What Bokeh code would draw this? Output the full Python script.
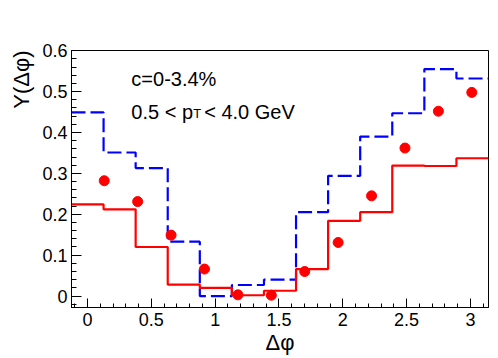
import numpy as np
from bokeh.plotting import figure
from bokeh.models import Label, SingleIntervalTicker, CustomJSTickFormatter, Range1d, Title
from bokeh.embed import file_html
from bokeh.resources import INLINE

# ---------------- data ----------------
# histogram bin edges: 13 bins of width 2*pi/25 covering [-pi/25, pi]
bin_edges = np.linspace(-np.pi, np.pi, 26)[12:]
blue_hist = [0.449, 0.351, 0.313, 0.133, 0.000, 0.027, 0.040, 0.205, 0.294, 0.390, 0.447, 0.555, 0.532]
red_hist = [0.224, 0.212, 0.120, 0.028, 0.020, 0.002, 0.013, 0.066, 0.184, 0.205, 0.319, 0.318, 0.337]
# data points at centers of 12 bins of width pi/12
point_x = (np.arange(12) + 0.5) * np.pi / 12
point_y = [0.282, 0.231, 0.149, 0.066, 0.003, 0.002, 0.060, 0.131, 0.245, 0.362, 0.452, 0.498]

x_title = "Δφ"
y_title = "Y(Δφ)"
text_centrality = "c=0-3.4%"
text_pt_a = "0.5 < p"
text_pt_sub = "T"
text_pt_b = "< 4.0 GeV"

FONT = "Liberation Sans"

# ---------------- figure ----------------
X0, X1 = -np.pi / 25, np.pi
Y0, Y1 = -0.028, 0.6005
W, H = 498, 358
BL, BR, BT, BB = 70, 10, 50, 51
OFF = 0

p = figure(width=W, height=H, output_backend="svg", toolbar_location=None,
           x_range=Range1d(X0, X1), y_range=Range1d(Y0, Y1),
           min_border_left=BL, min_border_right=BR, min_border_top=BT, min_border_bottom=BB)
p.background_fill_color = "white"
p.border_fill_color = "white"
p.outline_line_color = "black"
p.outline_line_width = 1
p.xgrid.visible = False
p.ygrid.visible = False

fmt = CustomJSTickFormatter(code="return String(parseFloat(tick.toFixed(3)));")

xa = p.xaxis[0]
xa.ticker = SingleIntervalTicker(interval=0.5, num_minor_ticks=5)
xa.formatter = fmt
xa.major_tick_in = 9
xa.major_tick_out = 0
xa.minor_tick_in = 4
xa.minor_tick_out = 0
xa.axis_line_color = "black"
xa.major_tick_line_color = "black"
xa.minor_tick_line_color = "black"
xa.major_label_text_font = FONT
xa.major_label_text_font_size = "18px"
xa.major_label_text_color = "black"
xa.major_label_standoff = 5
xa.axis_label = x_title
xa.axis_label_text_font = FONT
xa.axis_label_text_font_size = "22px"
xa.axis_label_text_font_style = "normal"
xa.axis_label_text_color = "black"
xa.axis_label_standoff = 1

ya = p.yaxis[0]
ya.ticker = SingleIntervalTicker(interval=0.1, num_minor_ticks=5)
ya.formatter = fmt
ya.major_tick_in = 10
ya.major_tick_out = 0
ya.minor_tick_in = 5
ya.minor_tick_out = 0
ya.axis_line_color = "black"
ya.major_tick_line_color = "black"
ya.minor_tick_line_color = "black"
ya.major_label_text_font = FONT
ya.major_label_text_font_size = "18px"
ya.major_label_text_color = "black"
ya.major_label_standoff = 4

p.add_layout(Title(text=y_title, align="right", text_font=FONT, text_font_size="22px",
                   text_font_style="normal", text_color="black", standoff=12), "left")

# ---------------- glyphs ----------------
p.step(x=list(bin_edges), y=blue_hist + [blue_hist[-1]], mode="after",
       line_color="#0000ff", line_width=2.2, line_dash="14 5")
p.step(x=list(bin_edges), y=red_hist + [red_hist[-1]], mode="after",
       line_color="#ff0000", line_width=2.2)
p.scatter(x=point_x, y=point_y, size=10, marker="circle",
          fill_color="#ff0000", line_color="#ff0000")

# ---------------- texts (positioned in page pixels) ----------------
fw = W - BL - BR
fh = H - BT - BB


def fx(px):
    return X0 + (px - OFF - BL) * (X1 - X0) / fw


def fy(py):
    return Y1 - (py - OFF - BT) * (Y1 - Y0) / fh


def add_label(txt, px, py, size, **kw):
    p.add_layout(Label(x=fx(px), y=fy(py), text=txt, text_font=FONT,
                       text_font_size=size, text_color="black",
                       text_baseline=kw.pop("baseline", "alphabetic"), **kw))


add_label(text_centrality, 130, 78, "20px")
add_label(text_pt_a, 130, 111, "20px")
add_label(text_pt_sub, 192, 113, "13px")
add_label(text_pt_b, 203, 111, "20px")

open("out.html", "w").write(file_html(p, INLINE))
